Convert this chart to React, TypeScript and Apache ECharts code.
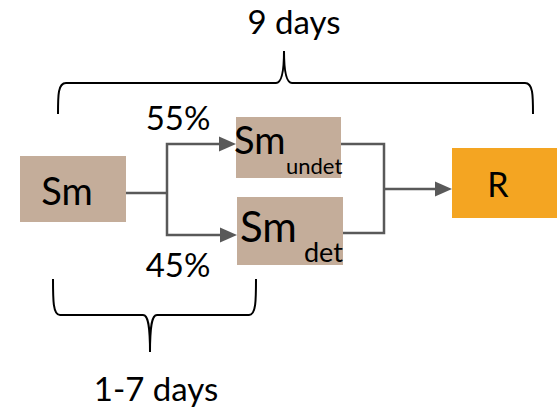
import React, { useEffect, useRef } from "react";
import * as echarts from "echarts";

const nodeNames = ["Sm", "Sm", "Sm", "R"];
const nodeSubs = ["", "undet", "det", ""];
const branchShares = ["55%", "45%"];
const durations = ["9 days", "1-7 days"];

const FONT = "Lato, 'Open Sans', 'Noto Sans', sans-serif";
const TAN = "#C4AD9A";
const ORANGE = "#F4A522";
const GREY = "#595959";

const topBrace =
  "M58,114 C58,95 58,83 66,83 L276,83 C282,83 284,70 284,51 C284,70 286,83 292,83 L525,83 C533,83 533,95 533,114";
const bottomBrace =
  "M53,279 C53,300 53,315 60,315 L143,315 C148,315 150,325 150,352 C150,325 152,315 157,315 L249,315 C256,315 256,300 256,279";

echarts.graphic.registerShape("braceTop", echarts.graphic.extendPath(topBrace, {}) as any);
echarts.graphic.registerShape("braceBottom", echarts.graphic.extendPath(bottomBrace, {}) as any);

function arrowHead(tx: number, ty: number) {
  return {
    type: "polygon",
    shape: { points: [[tx, ty], [tx - 17, ty - 7.5], [tx - 17, ty + 7.5]] },
    style: { fill: GREY },
  };
}
function line(points: number[][]) {
  return {
    type: "polyline",
    shape: { points },
    style: { stroke: GREY, lineWidth: 2.5, fill: "none" },
  };
}
function txt(text: string, x: number, y: number, size: number, align = "center") {
  return {
    type: "text",
    x,
    y,
    style: {
      text,
      fill: "#000",
      font: `${size}px ${FONT}`,
      align,
      verticalAlign: "middle",
    },
  };
}

export default function App() {
  const ref = useRef<HTMLDivElement>(null);
  useEffect(() => {
    if (!ref.current) return;
    const chart = echarts.init(ref.current, undefined, { renderer: "svg" });
    const boxes = [
      { x: 20, y: 156, w: 106, h: 66, c: TAN },
      { x: 236, y: 117, w: 105, h: 61, c: TAN },
      { x: 237, y: 197, w: 106, h: 68, c: TAN },
      { x: 452, y: 148, w: 105, h: 70, c: ORANGE },
    ];
    const elements: any[] = [];
    boxes.forEach((b) =>
      elements.push({
        type: "rect",
        shape: { x: b.x, y: b.y, width: b.w, height: b.h },
        style: { fill: b.c },
      })
    );
    // connectors
    elements.push(line([[126, 193], [167, 193]]));
    elements.push(line([[222, 144], [167, 144], [167, 235], [222, 235]]));
    elements.push(arrowHead(236, 144));
    elements.push(arrowHead(237, 235));
    elements.push(line([[341, 144], [384, 144], [384, 233], [343, 233]]));
    elements.push(line([[384, 189], [437, 189]]));
    elements.push(arrowHead(452, 189));
    // braces
    elements.push({ type: "braceTop", x: 0, y: 0, style: { stroke: "#000", lineWidth: 2, fill: "none" } });
    elements.push({ type: "braceBottom", x: 0, y: 0, style: { stroke: "#000", lineWidth: 2, fill: "none" } });
    // node texts
    elements.push(txt(nodeNames[0], 67, 190, 38));
    elements.push(txt(nodeNames[1], 234, 139, 38, "left"));
    elements.push(txt(nodeSubs[1], 286, 165, 22, "left"));
    elements.push(txt(nodeNames[2], 240, 226, 42, "left"));
    elements.push(txt(nodeSubs[2], 304, 251, 27, "left"));
    elements.push(txt(nodeNames[3], 498, 183, 34));
    // shares
    elements.push(txt(branchShares[0], 178, 117, 33));
    elements.push(txt(branchShares[1], 178, 264, 33));
    // durations
    elements.push(txt(durations[0], 294, 21, 33));
    elements.push(txt(durations[1], 156, 388, 33));

    chart.setOption({
      animation: false,
      backgroundColor: "#fff",
      graphic: { elements },
    });
    return () => chart.dispose();
  }, []);
  return (
    <div
      ref={ref}
      style={{ position: "fixed", left: 0, top: 0, width: 557, height: 410 }}
    />
  );
}
